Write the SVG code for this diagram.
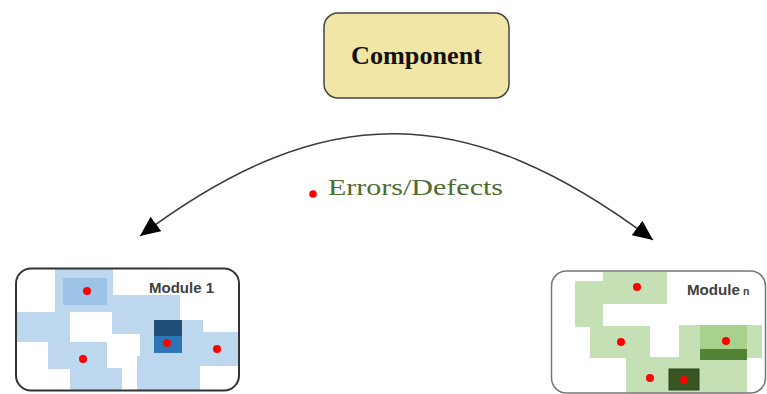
<svg xmlns="http://www.w3.org/2000/svg" width="767" height="394" viewBox="0 0 767 394">
<style>
.box{stroke-width:1.5}
.lb{fill:#bdd7ee}
.lg{fill:#c5e0b4}
.dot{fill:#ff0000}
.mod{font-family:"Liberation Sans",Arial,sans-serif;font-weight:bold;fill:#404040}
.conn{fill:none;stroke:#3a3a3a;stroke-width:1.5}
</style>
<defs>
<marker id="ah" viewBox="0 0 20 18" refX="20" refY="9" markerWidth="20" markerHeight="18" markerUnits="userSpaceOnUse" orient="auto-start-reverse">
<path d="M0,0 L20,9 L0,18 z" fill="#000"/>
</marker>
<clipPath id="c1"><rect x="16" y="269" width="223" height="121" rx="14"/></clipPath>
<clipPath id="c2"><rect x="552" y="272" width="213" height="121" rx="14"/></clipPath>
</defs>
<rect width="767" height="394" fill="#fff"/>

<g id="component">
<rect x="324" y="13" width="185" height="85" rx="14" fill="#f2e6a7" stroke="#444" class="box"/>
<text x="416.5" y="64" font-family="'Liberation Serif','Times New Roman',serif" font-weight="bold" font-size="25" text-anchor="middle" textLength="131" lengthAdjust="spacingAndGlyphs" fill="#111">Component</text>
</g>

<g id="connectors">
<path class="conn" d="M140,236 C325,97 468,101 653,240" marker-start="url(#ah)" marker-end="url(#ah)"/>
</g>

<g id="legend">
<circle class="dot" cx="313" cy="194" r="3.8"/>
<text x="328" y="195" font-family="'Liberation Serif','Times New Roman',serif" font-size="24" textLength="175" lengthAdjust="spacingAndGlyphs" fill="#4e6b32">Errors/Defects</text>
</g>

<g id="module1">
<g clip-path="url(#c1)">
<rect class="lb" x="55" y="268" width="58" height="44"/>
<rect class="lb" x="112" y="295" width="68" height="25"/>
<rect class="lb" x="15" y="312" width="55" height="30"/>
<rect class="lb" x="112" y="312" width="31" height="22"/>
<rect class="lb" x="140" y="318" width="15" height="40"/>
<rect class="lb" x="180" y="320" width="23" height="12"/>
<rect class="lb" x="182" y="332" width="58" height="34"/>
<rect class="lb" x="48" y="342" width="59" height="27"/>
<rect class="lb" x="70" y="368" width="52" height="26"/>
<rect class="lb" x="137" y="356" width="63" height="38"/>
<rect class="lb" x="155" y="352" width="27" height="6"/>
<rect x="63" y="278" width="44" height="27" fill="#9dc3e6"/>
<rect x="154" y="320" width="28" height="16" fill="#1f4e79"/>
<rect x="154" y="336" width="28" height="17" fill="#2e75b6"/>
</g>
<rect x="16" y="268.5" width="223" height="122" rx="15" fill="none" stroke="#333" stroke-width="2"/>
<text class="mod" x="149" y="293" font-size="14.5" textLength="65" lengthAdjust="spacingAndGlyphs">Module 1</text>
<circle class="dot" cx="87" cy="291" r="4"/>
<circle class="dot" cx="83" cy="359" r="4"/>
<circle class="dot" cx="167" cy="343" r="4"/>
<circle class="dot" cx="217" cy="349" r="4"/>
</g>

<g id="moduleN">
<g clip-path="url(#c2)">
<rect class="lg" x="603" y="271" width="64" height="33"/>
<rect class="lg" x="575" y="281" width="28" height="46"/>
<rect class="lg" x="590" y="326" width="60" height="32"/>
<rect class="lg" x="679" y="325" width="83" height="33"/>
<rect class="lg" x="626" y="357" width="121" height="37"/>
<rect x="700" y="325" width="47" height="24" fill="#a9d18e"/>
<rect x="700" y="349" width="47" height="11" fill="#548235"/>
<rect x="669" y="369" width="30" height="21" fill="#375623" stroke="#2a4419" stroke-width="1"/>
</g>
<rect x="551.5" y="271" width="214" height="122" rx="15" fill="none" stroke="#777" stroke-width="1.5"/>
<text class="mod" x="687" y="295" font-size="15" textLength="53" lengthAdjust="spacingAndGlyphs">Module</text>
<text class="mod" x="743" y="295" font-size="10.5">n</text>
<circle class="dot" cx="637" cy="287" r="4"/>
<circle class="dot" cx="621" cy="342" r="4"/>
<circle class="dot" cx="726" cy="341" r="4"/>
<circle class="dot" cx="650" cy="378" r="4"/>
<circle class="dot" cx="684" cy="380" r="4"/>
</g>
</svg>
